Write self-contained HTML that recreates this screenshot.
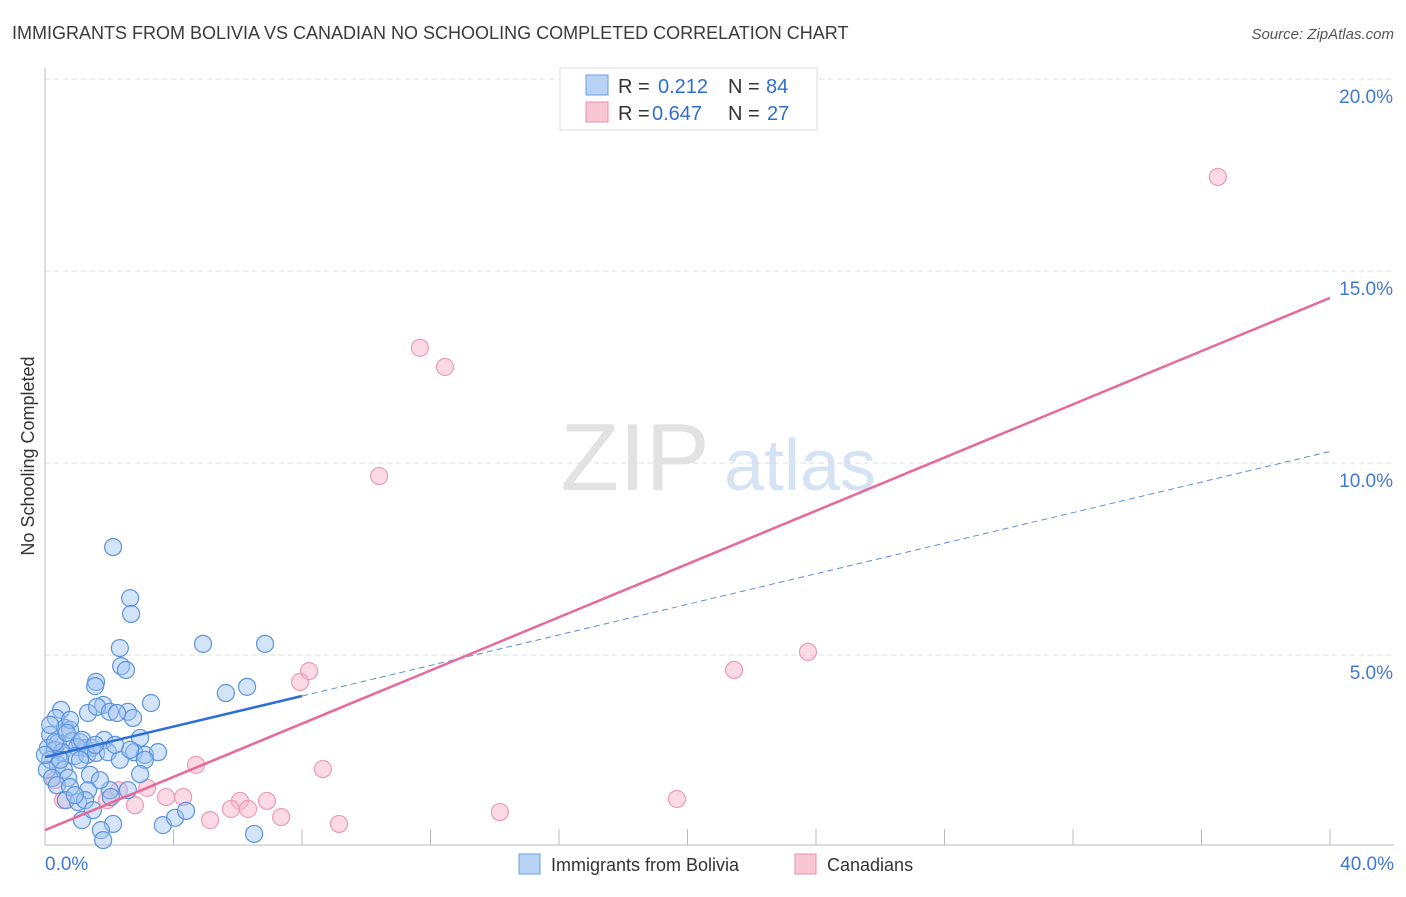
<!DOCTYPE html>
<html><head><meta charset="utf-8"><style>
body{margin:0;background:#fff;font-family:"Liberation Sans",sans-serif;}
svg text{font-family:"Liberation Sans",sans-serif;}
</style></head><body>
<svg id="chart" width="1406" height="892" xmlns="http://www.w3.org/2000/svg">
<text x="12" y="39" font-size="18" fill="#3a3a3a">IMMIGRANTS FROM BOLIVIA VS CANADIAN NO SCHOOLING COMPLETED CORRELATION CHART</text>
<text x="1394" y="39" font-size="15" fill="#555" font-style="italic" text-anchor="end">Source: ZipAtlas.com</text>
<text transform="translate(34,456) rotate(-90)" font-size="18" fill="#333" text-anchor="middle">No Schooling Completed</text>
<g><text x="635" y="490" font-size="96" fill="#e2e2e2" font-family="Liberation Serif" text-anchor="middle">ZIP</text><text x="800" y="490" font-size="72" fill="#d6e3f5" text-anchor="middle">atlas</text></g>
<g id="grid"></g><g id="marks"></g>
<g>
<rect x="560" y="68" width="257" height="62" fill="#fff" stroke="#ddd"/>
<rect x="586" y="75" width="22" height="20" fill="#b8d3f5" stroke="#6a9fe0"/>
<rect x="586" y="102" width="22" height="20" fill="#f9c6d6" stroke="#ec8fae"/>
<text x="618" y="93" font-size="20" fill="#333">R =</text><text x="658" y="93" font-size="20" fill="#2f6fd0">0.212</text>
<text x="728" y="93" font-size="20" fill="#333">N =</text><text x="766" y="93" font-size="20" fill="#2f6fd0">84</text>
<text x="618" y="120" font-size="20" fill="#333">R =</text><text x="652" y="120" font-size="20" fill="#2f6fd0">0.647</text>
<text x="728" y="120" font-size="20" fill="#333">N =</text><text x="767" y="120" font-size="20" fill="#2f6fd0">27</text>
</g>
<g>
<rect x="519" y="854" width="21" height="20" fill="#b8d3f5" stroke="#6a9fe0"/>
<text x="551" y="871" font-size="18" fill="#333">Immigrants from Bolivia</text>
<rect x="795" y="854" width="21" height="20" fill="#f9c6d6" stroke="#ec8fae"/>
<text x="827" y="871" font-size="18" fill="#333">Canadians</text>
</g>
</svg>
<script>
const xTicks=[0,40];
const yTicks=[5,10,15,20];
const blueX=[2.12,2.65,2.68,2.33,2.37,2.52,4.92,6.85,1.59,1.56,3.30,5.63,6.29,0.50,0.34,1.34,1.81,1.62,2.02,2.58,2.74,2.24,0.62,0.78,0.16,0.40,0.84,1.09,1.25,1.46,1.84,2.96,1.00,0.09,0.31,0.53,0.93,1.31,1.59,1.96,2.33,2.77,3.11,3.52,3.11,0.16,0.40,0.59,0.06,0.22,0.72,1.40,2.96,0.37,0.78,1.34,2.02,0.65,1.03,1.25,2.05,1.15,2.12,1.74,3.67,4.05,4.39,6.51,1.81,0.31,0.47,1.09,1.71,2.65,0.78,1.15,1.56,0.16,0.68,2.18,0.93,2.58,1.49,0.00];
const blueY=[7.81,6.48,6.07,5.18,4.71,4.61,5.29,5.29,4.30,4.19,3.75,4.01,4.17,3.57,3.36,3.49,3.70,3.65,3.52,3.52,3.36,3.49,3.10,3.05,2.92,2.71,2.76,2.73,2.58,2.58,2.79,2.84,2.60,2.58,2.53,2.47,2.37,2.40,2.45,2.47,2.27,2.47,2.40,2.47,2.27,2.27,2.14,2.01,2.01,1.80,1.80,1.88,1.90,1.61,1.56,1.48,1.48,1.22,1.17,1.22,1.30,0.70,0.60,0.44,0.57,0.76,0.94,0.34,0.18,2.73,2.27,2.27,1.74,2.53,3.31,2.79,2.66,3.18,2.97,2.66,1.35,1.48,0.96,2.40];
const pinkX=[36.51,11.67,12.45,10.40,8.22,7.94,23.75,21.45,4.70,8.65,3.18,4.30,3.77,6.07,6.91,19.67,2.80,2.30,1.93,0.56,5.14,5.79,6.32,7.35,9.15,14.16,0.31];
const pinkY=[17.45,13.00,12.50,9.66,4.58,4.30,5.08,4.61,2.14,2.03,1.54,1.30,1.30,1.20,1.20,1.25,1.09,1.48,1.22,1.22,0.70,0.99,0.99,0.78,0.60,0.91,1.74];
const blueTrend=[2.34,0.199];const pinkTrend=[0.44,0.3465];
const sx=v=>45+v*1285/40, sy=v=>847-v*38.4;
const NS='http://www.w3.org/2000/svg';
function mk(t,a,p){const e=document.createElementNS(NS,t);for(const k in a)e.setAttribute(k,a[k]);p.appendChild(e);return e;}
const g=document.getElementById('grid'),m=document.getElementById('marks');
yTicks.forEach(v=>{const l=mk('line',{x1:45,x2:1394,y1:sy(v),y2:sy(v),stroke:'#ddd','stroke-dasharray':'5,4'},g);


const t=mk('text',{x:1393,y:sy(v)+24,'font-size':19,fill:'#3f78d6','text-anchor':'end'},g);t.textContent=v.toFixed(1)+'%';

});
const ax=mk('path',{d:'M45 68V845H1394',fill:'none',stroke:'#bbb'},g);


for(let i=1;i<=10;i++){const x=sx(i*4);const tk=mk('line',{x1:x,x2:x,y1:829,y2:845,stroke:'#bbb'},g);

}
xTicks.forEach((v,i)=>{const t=mk('text',{x:i?1394:45,y:870,'font-size':19,fill:'#3f78d6','text-anchor':i?'end':'start'},g);t.textContent=v.toFixed(1)+'%';

});
pinkX.forEach((x,i)=>{const c=mk('circle',{cx:sx(x),cy:sy(pinkY[i]),r:8.5,fill:'rgba(247,182,203,0.5)',stroke:'#ee9ab5','stroke-width':1.2},m);

});
blueX.forEach((x,i)=>{const c=mk('circle',{cx:sx(x),cy:sy(blueY[i]),r:8.5,fill:'rgba(160,196,240,0.45)',stroke:'#5b93dc','stroke-width':1.2},m);

});
const bl=mk('line',{x1:sx(0),y1:sy(blueTrend[0]),x2:sx(8),y2:sy(blueTrend[0]+8*blueTrend[1]),stroke:'#2a6fd6','stroke-width':2.5},m);


const bd=mk('line',{x1:sx(8),y1:sy(blueTrend[0]+8*blueTrend[1]),x2:sx(40),y2:sy(blueTrend[0]+40*blueTrend[1]),stroke:'#5b8fd8','stroke-width':1,'stroke-dasharray':'6,4'},m);


const pl=mk('line',{x1:sx(0),y1:sy(pinkTrend[0]),x2:sx(40),y2:sy(pinkTrend[0]+40*pinkTrend[1]),stroke:'#e8689a','stroke-width':2.5},m);


</script>
</body></html>
